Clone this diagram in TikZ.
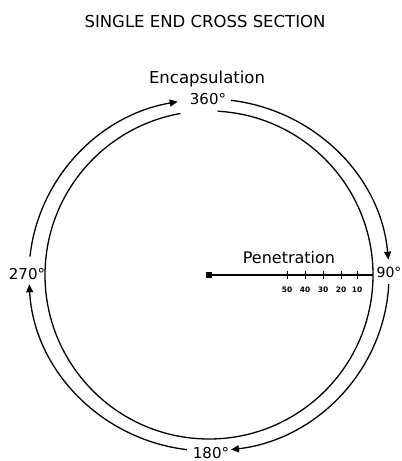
\documentclass[tikz,border=0pt]{standalone}
\usepackage{fontspec}
\setmainfont{DejaVu Sans}
\usetikzlibrary{arrows.meta,calc,positioning}

\tikzset{
  deglabel/.style={font=\fontsize{15}{17}\selectfont, inner sep=1pt},
  ticklabel/.style={font=\fontsize{7.5}{9}\selectfont\bfseries, inner sep=0.5pt},
  headlabel/.style={font=\fontsize{16.5}{19}\selectfont, inner sep=1pt}
}

\begin{document}
\begin{tikzpicture}[x=1pt, y=1pt, >={Triangle[length=8pt,width=7pt]}, line width=1.3pt]
    \useasboundingbox (0,0) rectangle (402,461);
    \coordinate (C) at (209,186);

    % Headings
    \node[headlabel] (title) at (205,440) {SINGLE END CROSS SECTION};
    \node[headlabel] (encap) at (207,382) {Encapsulation};

    % Inner ring, open below the 360 mark
    \draw ($(C)+(87:164)$) arc[start angle=87, end angle=-260, radius=164];

    % Outer ring: four clockwise quarter arcs, each ending in a tip
    \foreach \from/\to in {174/100, 83/5, -3/-83, -97/-177} {
      \draw[->] ($(C)+(\from:180 and 176)$) arc[start angle=\from, end angle=\to, x radius=180, y radius=176];
    }

    % Angle marks
    \node[deglabel] (d360) at (208,362) {360°};
    \node[deglabel, font=\fontsize{14}{16}\selectfont, inner sep=0.5pt, anchor=west] (d90) at (375.5,189) {90°};
    \node[deglabel] (d180) at (211,8) {180°};
    \node[deglabel] (d270) at (27,187) {270°};

    % Penetration depth scale from the centre to the inner ring
    \node[draw, fill=black, minimum size=5pt, inner sep=0pt] (core) at (C) {};
    \coordinate (rim) at ($(C)+(0:164)$);
    \draw[line width=1.1pt] (core.center) -- (rim);
    \node[headlabel, font=\fontsize{16}{18}\selectfont] (pen) at (289,203) {Penetration};
    \foreach \dx/\depth in {78/50, 96/40, 114/30, 132/20, 148/10} {
      \draw[line width=1pt] ($(C)+(\dx,-4)$) -- ($(C)+(\dx,4)$);
      \node[ticklabel] at ($(C)+(\dx,-15)$) {\depth};
    }
  \end{tikzpicture}
\end{document}
